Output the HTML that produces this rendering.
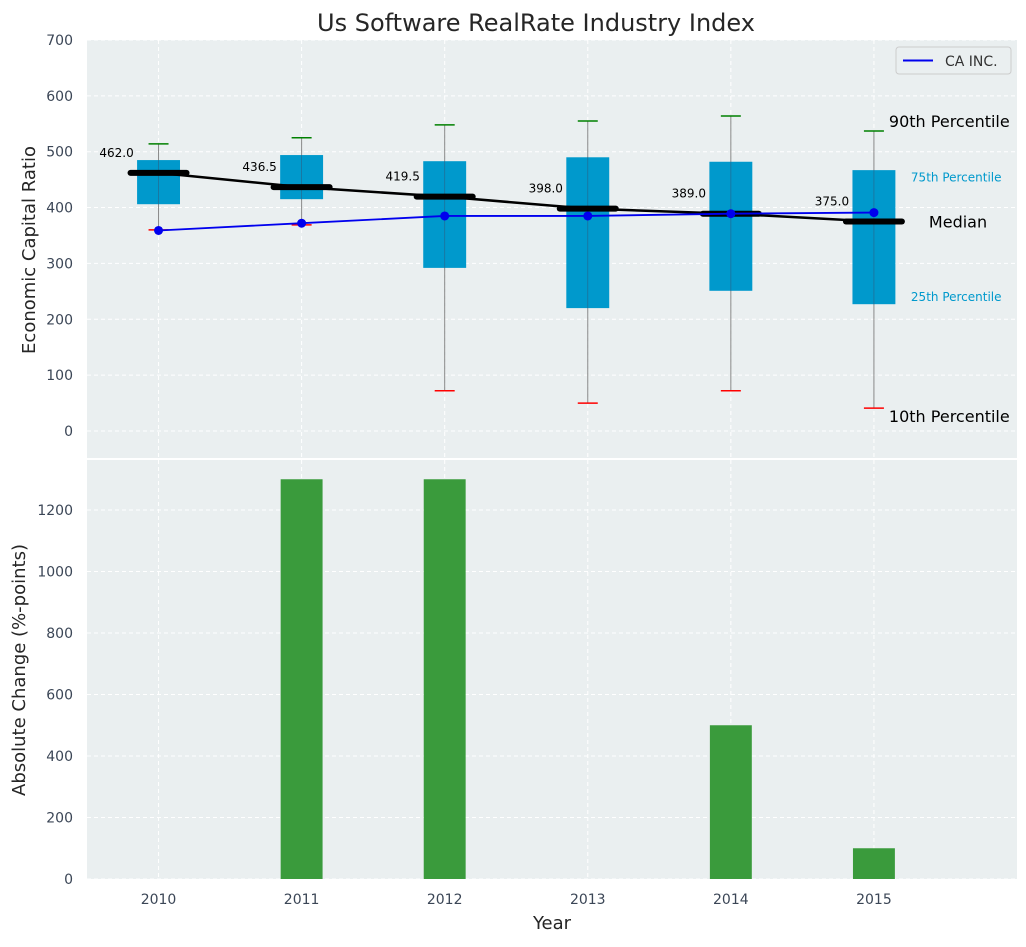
<!DOCTYPE html>
<html><head><meta charset="utf-8"><style>
body{margin:0;background:#fff;font-family:"Liberation Sans","DejaVu Sans",sans-serif}
svg text{font-family:"DejaVu Sans","Liberation Sans",sans-serif}
</style></head><body>
<svg id="chart" width="1026" height="942" xmlns="http://www.w3.org/2000/svg">
<text x="536" y="31" text-anchor="middle" font-size="24" fill="#262626">Us Software RealRate Industry Index</text>
<g id="topG"></g><g id="botG"></g>
</svg>
<script>
const years=["2010","2011","2012","2013","2014","2015"];
const p90=[514,525,548,555,564,537];
const p75=[485,494,483,490,482,467];
const medians=[462.0,436.5,419.5,398.0,389.0,375.0];
const p25=[406,415,292,220,251,227];
const p10=[360,369,72,50,72,41];
const caInc=[359,372,385,385,389,391];
const changes=[0,1300,1300,0,500,100];
const topTicks=[0,100,200,300,400,500,600,700];
const botTicks=[0,200,400,600,800,1000,1200];

const NS="http://www.w3.org/2000/svg";
const svgEl=document.getElementById('chart');
const L=87,R=1017;
const xs=i=>L+(i+0.5)*(R-L)/6.5;
const yT=v=>431-v*0.5586;
const yB=v=>879-v*0.3075;
function el(tag,attrs,parent,text){const e=document.createElementNS(NS,tag);for(const k in attrs)e.setAttribute(k,attrs[k]);if(text!==undefined)e.textContent=text;(parent||svgEl).appendChild(e);return e;}
const topG=document.getElementById('topG'),botG=document.getElementById('botG');
let e;
e=el('rect',{x:L,y:40,width:R-L,height:418,fill:'#eaeff0'},topG);


e=el('rect',{x:L,y:460,width:R-L,height:419,fill:'#eaeff0'},botG);


topTicks.forEach(t=>{const y=yT(t);
 el('line',{x1:L,x2:R,y1:y,y2:y,stroke:'#fff','stroke-dasharray':'4,3','stroke-width':1},topG);
 e=el('text',{x:L-14,y:y+5,'text-anchor':'end','font-size':14,fill:'#3b4656'},topG,t);
 
 });
botTicks.forEach(t=>{const y=yB(t);
 el('line',{x1:L,x2:R,y1:y,y2:y,stroke:'#fff','stroke-dasharray':'4,3','stroke-width':1},botG);
 e=el('text',{x:L-14,y:y+5,'text-anchor':'end','font-size':14,fill:'#3b4656'},botG,t);
 
 });
years.forEach((yr,i)=>{const x=xs(i);
 el('line',{x1:x,x2:x,y1:40,y2:458,stroke:'#fff','stroke-dasharray':'4,3'},topG);
 el('line',{x1:x,x2:x,y1:460,y2:879,stroke:'#fff','stroke-dasharray':'4,3'},botG);
 e=el('text',{x:x,y:904,'text-anchor':'middle','font-size':14,fill:'#3b4656'},botG,yr);
 
 });
const bw=0.3*(R-L)/6.5;
years.forEach((yr,i)=>{const x=xs(i);
 e=el('line',{x1:x,x2:x,y1:yT(p90[i]),y2:yT(p10[i]),stroke:'#888','stroke-width':1},topG);
 
 
 e=el('rect',{x:x-bw/2,y:yT(p75[i]),width:bw,height:yT(p25[i])-yT(p75[i]),fill:'#0099cc'},topG);
 
 
 el('line',{x1:x,x2:x,y1:yT(p75[i]),y2:yT(p25[i]),stroke:'#357',"stroke-width":0.8,opacity:0.6},topG);
 e=el('line',{x1:x-10,x2:x+10,y1:yT(p90[i]),y2:yT(p90[i]),stroke:'green','stroke-width':1.5},topG);
 
 
 e=el('line',{x1:x-10,x2:x+10,y1:yT(p10[i]),y2:yT(p10[i]),stroke:'red','stroke-width':1.5},topG);
 
 
});
e=el('polyline',{points:medians.map((m,i)=>xs(i)+','+yT(m)).join(' '),fill:'none',stroke:'#000','stroke-width':2.5},topG);


medians.forEach((m,i)=>{const x=xs(i);
 e=el('line',{x1:x-28,x2:x+28,y1:yT(m),y2:yT(m),stroke:'#000','stroke-width':6,'stroke-linecap':'round'},topG);
 
 
 e=el('text',{x:x-42,y:yT(m)-16,'text-anchor':'middle','font-size':12,fill:'#000'},topG,m.toFixed(1));
 
 });
e=el('polyline',{points:caInc.map((v,i)=>xs(i)+','+yT(v)).join(' '),fill:'none',stroke:'#0000ee','stroke-width':1.8},topG);


caInc.forEach((v,i)=>{e=el('circle',{cx:xs(i),cy:yT(v),r:4.5,fill:'#0000ee'},topG);
 
 });
const lx=xs(5);
const ann=[["90th Percentile",p90[5],15,16,'#000','p90-annotation',-4],["75th Percentile",p75[5]-15,37,12,'#0099cc','p75-annotation',3],["Median",medians[5],55,16,'#000','median-annotation',6],["25th Percentile",p25[5]+15,37,12,'#0099cc','p25-annotation',5],["10th Percentile",p10[5],15,16,'#000','p10-annotation',14]];
ann.forEach(a=>{e=el('text',{x:lx+a[2],y:yT(a[1])+a[6],'font-size':a[3],fill:a[4]},topG,a[0]);
 
 });
e=el('g',{},topG);


el('rect',{x:896,y:47,width:115,height:27,rx:3,fill:'#eaeff0',stroke:'#ccc'},e);
el('line',{x1:903,x2:933,y1:60.5,y2:60.5,stroke:'#0000ee','stroke-width':2},e);
el('text',{x:945,y:66,'font-size':14,fill:'#333'},e,'CA INC.');
changes.forEach((v,i)=>{const x=xs(i);
 e=el('rect',{x:x-bw/2+0.5,y:yB(v),width:bw-1,height:yB(0)-yB(v),fill:'#3a9b3c'},botG);
 
 });
e=el('text',{x:0,y:0,'text-anchor':'middle','font-size':18,fill:'#262626',transform:'translate(35,250) rotate(-90)'},svgEl,'Economic Capital Ratio');


e=el('text',{x:0,y:0,'text-anchor':'middle','font-size':18,fill:'#262626',transform:'translate(25,670) rotate(-90)'},svgEl,'Absolute Change (%-points)');


e=el('text',{x:552,y:929,'text-anchor':'middle','font-size':18,fill:'#262626'},svgEl,'Year');


</script>
</body></html>
